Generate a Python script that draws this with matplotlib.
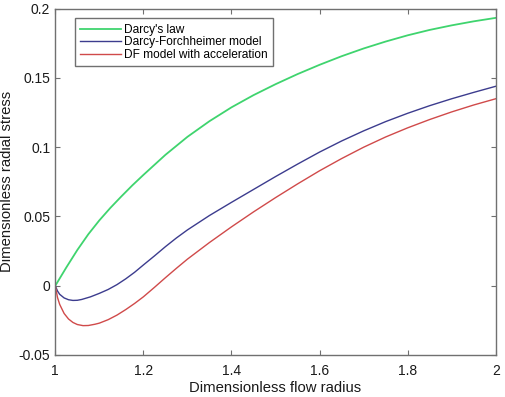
import matplotlib
matplotlib.use("Agg")
import matplotlib.pyplot as plt

plt.rcParams["font.family"] = ["Liberation Sans", "DejaVu Sans"]

# values
x_darcy = [1.0, 1.025, 1.05, 1.075, 1.1, 1.125, 1.15, 1.175, 1.2, 1.25, 1.3,
           1.35, 1.4, 1.45, 1.5, 1.55, 1.6, 1.65, 1.7, 1.75, 1.8, 1.85, 1.9,
           1.95, 2.0]
y_darcy = [0.0, 0.0132, 0.0258, 0.0372, 0.0472, 0.0562, 0.0645, 0.0725,
           0.0800, 0.0945, 0.1075, 0.1188, 0.1288, 0.1376, 0.1455, 0.1528,
           0.1595, 0.1657, 0.1713, 0.1763, 0.1808, 0.1847, 0.1880, 0.1909,
           0.1934]

x_df = [1.0, 1.005, 1.01, 1.02, 1.03, 1.04, 1.05, 1.06, 1.08, 1.1, 1.12, 1.14,
        1.16, 1.18, 1.2, 1.225, 1.25, 1.275, 1.3, 1.35, 1.4, 1.45, 1.5, 1.55,
        1.6, 1.65, 1.7, 1.75, 1.8, 1.85, 1.9, 1.95, 2.0]
y_df = [0.0, -0.0038, -0.0062, -0.0088, -0.0101, -0.0106, -0.0105, -0.0099,
        -0.0080, -0.0055, -0.0027, 0.0008, 0.0050, 0.0097, 0.0150, 0.0215,
        0.0282, 0.0345, 0.0403, 0.0507, 0.0602, 0.0695, 0.0788, 0.0878,
        0.0965, 0.1045, 0.1118, 0.1185, 0.1245, 0.1300, 0.1350, 0.1396,
        0.1440]

x_dfa = [1.0, 1.005, 1.01, 1.02, 1.03, 1.04, 1.05, 1.063, 1.075, 1.09, 1.1,
         1.12, 1.14, 1.16, 1.18, 1.2, 1.225, 1.25, 1.275, 1.3, 1.35, 1.4, 1.45,
         1.5, 1.55, 1.6, 1.65, 1.7, 1.75, 1.8, 1.85, 1.9, 1.95, 2.0]
y_dfa = [0.0, -0.0085, -0.0135, -0.0200, -0.0240, -0.0265, -0.0280, -0.0288,
         -0.0287, -0.0278, -0.0270, -0.0245, -0.0212, -0.0172, -0.0128,
         -0.0080, -0.0012, 0.0058, 0.0126, 0.0192, 0.0312, 0.0425, 0.0533,
         0.0636, 0.0735, 0.0830, 0.0918, 0.1000, 0.1074, 0.1140, 0.1200,
         0.1255, 0.1305, 0.1350]

labels = ["Darcy's law", "Darcy-Forchheimer model", "DF model with acceleration"]
colors = ["#3fd46e", "#3c3c8e", "#d04a4a"]

fig = plt.figure(figsize=(5.05, 3.97), dpi=100)
ax = fig.add_axes([0.1095, 0.1058, 0.8721, 0.8722])

ax.plot(x_darcy, y_darcy, color=colors[0], lw=1.3, label=labels[0])
ax.plot(x_df, y_df, color=colors[1], lw=1.0, label=labels[1])
ax.plot(x_dfa, y_dfa, color=colors[2], lw=1.0, label=labels[2])

ax.set_xlim(1, 2)
ax.set_ylim(-0.05, 0.2)
ax.set_xticks([1, 1.2, 1.4, 1.6, 1.8, 2])
ax.set_xticklabels(["1", "1.2", "1.4", "1.6", "1.8", "2"])
ax.set_yticks([-0.05, 0, 0.05, 0.1, 0.15, 0.2])
ax.set_yticklabels(["-0.05", "0", "0.05", "0.1", "0.15", "0.2"])

edge = "#707070"
for s in ax.spines.values():
    s.set_color(edge)
    s.set_linewidth(1.0)
ax.tick_params(direction="in", top=True, right=True, length=3.6, width=0.8,
               color=edge, labelsize=10, labelcolor="#1a1a1a")
ax.tick_params(axis="y", pad=3.6)
ax.tick_params(axis="x", pad=6.5)

ax.set_xlabel("Dimensionless flow radius", fontsize=10.7, color="#1a1a1a", labelpad=2)
ax.set_ylabel("Dimensionless radial stress", fontsize=10.7, color="#1a1a1a", labelpad=3.5)

leg = ax.legend(loc="upper left", bbox_to_anchor=(0.044, 0.972), fontsize=8.6,
                fancybox=False, framealpha=1, edgecolor=edge, borderpad=0.45,
                handlelength=3.4, handletextpad=0.3, labelspacing=0.05,
                borderaxespad=0)
leg.get_frame().set_linewidth(1.0)

fig.savefig("out.png", dpi=100)
